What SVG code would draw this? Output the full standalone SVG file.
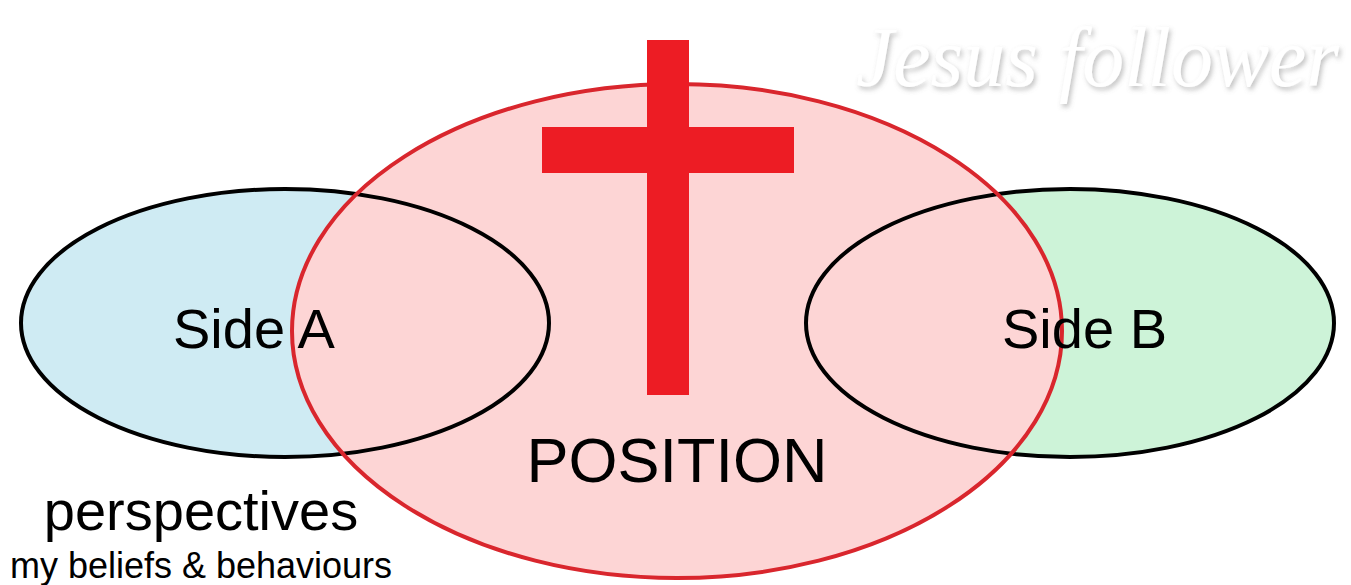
<svg xmlns="http://www.w3.org/2000/svg" width="1351" height="585" viewBox="0 0 1351 585">
<style>
.lbl{font-family:"Liberation Sans",Arial,sans-serif;fill:#000}
.side{fill:none;stroke:#000;stroke-width:4}
</style>
<defs>
<filter id="sh" filterUnits="userSpaceOnUse" x="800" y="0" width="551" height="140">
<feDropShadow dx="2" dy="3" stdDeviation="2.5" flood-color="#777" flood-opacity="0.45"/>
</filter>
</defs>
<rect width="1351" height="585" fill="#fff"/>
<g id="sideA-fill"><ellipse cx="285" cy="323" rx="264" ry="134" fill="#CFEBF3"/></g>
<g id="sideB-fill"><ellipse cx="1070" cy="323" rx="264" ry="134" fill="#CDF3D8"/></g>
<g id="position">
<ellipse cx="677" cy="331" rx="385" ry="247" fill="#FDD5D5"/>
</g>
<g id="sideA"><ellipse class="side" cx="285" cy="323" rx="264" ry="134"/></g>
<g id="sideB"><ellipse class="side" cx="1070" cy="323" rx="264" ry="134"/></g>
<g id="position-outline"><ellipse cx="677" cy="331" rx="385" ry="247" fill="none" stroke="#D9262D" stroke-width="4"/></g>
<g id="cross" fill="#ED1C24">
<rect x="647" y="40" width="42" height="355"/>
<rect x="542" y="127" width="252" height="46"/>
</g>
<g id="connectors"></g>
<g id="labels">
<text class="lbl" x="173" y="348" font-size="56">Side A</text>
<text class="lbl" x="1002" y="348" font-size="56">Side B</text>
<text class="lbl" x="677" y="482" font-size="63" text-anchor="middle">POSITION</text>
<text class="lbl" x="201" y="530" font-size="56" text-anchor="middle">perspectives</text>
<text class="lbl" x="201" y="578" font-size="36" text-anchor="middle">my beliefs &amp; behaviours</text>
</g>
<g id="title">
<text x="856" y="86" font-family="'Liberation Serif','DejaVu Serif',serif" font-style="italic" font-size="84" fill="#fff" filter="url(#sh)">Jesus follower</text>
</g>
</svg>
